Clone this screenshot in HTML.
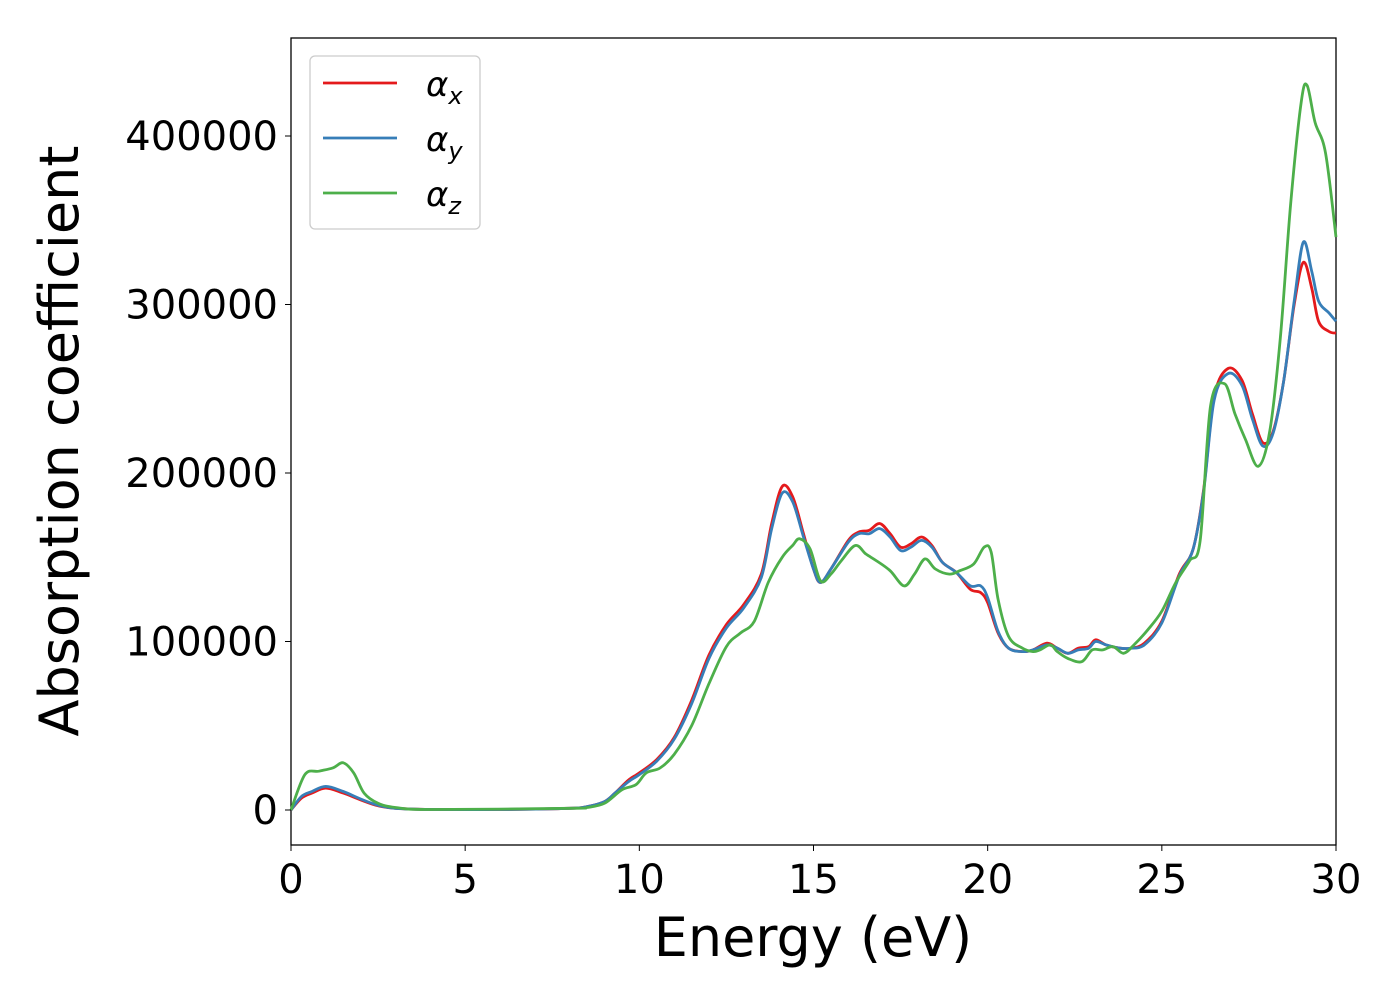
<!DOCTYPE html>
<html><head><meta charset="utf-8"><style>
body{margin:0;background:#fff;}
svg{font-family:"DejaVu Sans","Liberation Sans",sans-serif;}
</style></head><body>
<svg id="chart" width="1400" height="1000">
<rect x="291" y="38" width="1045" height="807" fill="#fff" stroke="#000" stroke-width="1.3"/>
<g id="curves"></g>
<g id="axes"></g>
<text x="813" y="956" font-size="54" text-anchor="middle">Energy (eV)</text>
<text transform="translate(78,441) rotate(-90)" font-size="54" text-anchor="middle">Absorption coefficient</text>
<g>
<rect x="310" y="56" width="170" height="173" rx="5" fill="#fff" stroke="#ccc" stroke-width="1.3"/>
<line x1="323" y1="83" x2="397" y2="83" stroke="#e41a1c" stroke-width="2.8"/>
<text x="426" y="96" font-size="34" font-style="italic">α<tspan font-size="24" dy="8">x</tspan></text>
<line x1="323" y1="138" x2="397" y2="138" stroke="#377eb8" stroke-width="2.8"/>
<text x="426" y="151" font-size="34" font-style="italic">α<tspan font-size="24" dy="8">y</tspan></text>
<line x1="323" y1="193" x2="397" y2="193" stroke="#4daf4a" stroke-width="2.8"/>
<text x="426" y="206" font-size="34" font-style="italic">α<tspan font-size="24" dy="8">z</tspan></text>
</g>
</svg>
<script>
const xTicks=[0,5,10,15,20,25,30];
const yTicks=[0,100000,200000,300000,400000];
const xE=[0,0.3,0.6,1.0,1.5,2.0,2.5,3,4,6,8,8.5,9,9.3,9.7,10,10.5,11,11.5,12,12.5,13,13.5,13.8,14.1,14.4,14.7,15.0,15.2,15.5,16,16.3,16.6,16.9,17.2,17.5,17.8,18.1,18.4,18.7,19.1,19.5,19.8,20.0,20.3,20.6,21,21.3,21.7,22,22.3,22.6,22.9,23.1,23.4,23.8,24.1,24.5,25,25.5,25.9,26.2,26.5,26.9,27.3,27.6,27.9,28.2,28.5,28.8,29.06,29.3,29.5,29.8,30];
const alphaX=[0,7,10,13,10,6,2.5,1,0.3,0.3,1,2,5,10,18,22,30,43,65,92,110,122,140,170,192,186,165,143,135,143,160,165,166,170,164,156,158,162,157,147,141,131,129,123,105,96,94,95,99,96,93,96,97,101,98,96,96,99,112,140,155,190,245,262,255,235,218,225,255,300,325,310,290,284,283];
const alphaY=[0,8,11,14,11,6.5,2.8,1,0.3,0.3,1,2,5,10,17,21,29,42,63,90,108,120,138,167,188,183,163,143,135,143,159,164,164,167,162,154,156,160,156,147,141,133,133,126,106,96,94,95,98,96,93,95,96,100,98,96,96,98,111,139,155,189,243,259,252,232,216,224,255,302,337,320,302,295,290];
const zE=[0,0.4,0.8,1.2,1.5,1.8,2.1,2.5,3,4,8,8.5,9,9.5,9.9,10.2,10.6,11,11.5,12,12.5,12.9,13.3,13.7,14.1,14.4,14.6,14.9,15.2,15.5,15.8,16.2,16.5,16.8,17.2,17.6,17.9,18.2,18.5,18.9,19.2,19.6,19.9,20.1,20.3,20.6,21,21.3,21.5,21.8,22,22.3,22.7,23.0,23.3,23.6,23.9,24.2,24.6,25.0,25.4,25.8,26.1,26.4,26.8,27.1,27.4,27.77,28.1,28.4,28.7,29.0,29.17,29.4,29.7,30];
const alphaZ=[0,21,23,25,28,22,10,4,1.5,0.3,1,1.5,4,12,15,22,25,33,50,75,97,105,112,135,150,157,161,155,136,140,148,157,152,148,142,133,140,149,143,140,142,146,156,153,125,103,96,94,95,98,94,90,88,95,95,97,93,98,107,118,135,148,160,240,253,235,220,204,225,280,360,420,430,408,390,340];
const X=e=>291+e*(1045/30);
const Y=k=>810-k*1.685;
const NS='http://www.w3.org/2000/svg';
function path(xs,ys){
  const p=xs.map((e,i)=>[X(e),Y(ys[i])]);
  let d='M'+p[0][0].toFixed(1)+','+p[0][1].toFixed(1);
  for(let i=0;i<p.length-1;i++){
    const p0=p[Math.max(0,i-1)],p1=p[i],p2=p[i+1],p3=p[Math.min(p.length-1,i+2)];
    const c1=[p1[0]+(p2[0]-p0[0])/6,p1[1]+(p2[1]-p0[1])/6];
    const c2=[p2[0]-(p3[0]-p1[0])/6,p2[1]-(p3[1]-p1[1])/6];
    d+=' C'+c1.map(v=>v.toFixed(1))+' '+c2.map(v=>v.toFixed(1))+' '+p2.map(v=>v.toFixed(1));
  }
  return d;
}
const g=document.getElementById('curves');
[[xE,alphaX,'#e41a1c','series-alpha-x'],[xE,alphaY,'#377eb8','series-alpha-y'],[zE,alphaZ,'#4daf4a','series-alpha-z']].forEach(s=>{
  const el=document.createElementNS(NS,'path');
  el.setAttribute('d',path(s[0],s[1]));
  el.setAttribute('fill','none');el.setAttribute('stroke',s[2]);el.setAttribute('stroke-width','2.8');
  
  
  g.appendChild(el);
});
const ax=document.getElementById('axes');
xTicks.forEach(t=>{
  const l=document.createElementNS(NS,'line');
  l.setAttribute('x1',X(t));l.setAttribute('x2',X(t));l.setAttribute('y1',845);l.setAttribute('y2',851);l.setAttribute('stroke','#000');
  
  
  ax.appendChild(l);
  const tx=document.createElementNS(NS,'text');
  tx.setAttribute('x',X(t));tx.setAttribute('y',893);tx.setAttribute('font-size','40');tx.setAttribute('text-anchor','middle');
  tx.textContent=t;
  
  
  ax.appendChild(tx);
});
yTicks.forEach(t=>{
  const y=Y(t/1000);
  const l=document.createElementNS(NS,'line');
  l.setAttribute('x1',285);l.setAttribute('x2',291);l.setAttribute('y1',y);l.setAttribute('y2',y);l.setAttribute('stroke','#000');
  
  
  ax.appendChild(l);
  const tx=document.createElementNS(NS,'text');
  tx.setAttribute('x',278);tx.setAttribute('y',y+14);tx.setAttribute('font-size','40');tx.setAttribute('text-anchor','end');
  tx.textContent=t;
  
  
  ax.appendChild(tx);
});
</script>
</body></html>
